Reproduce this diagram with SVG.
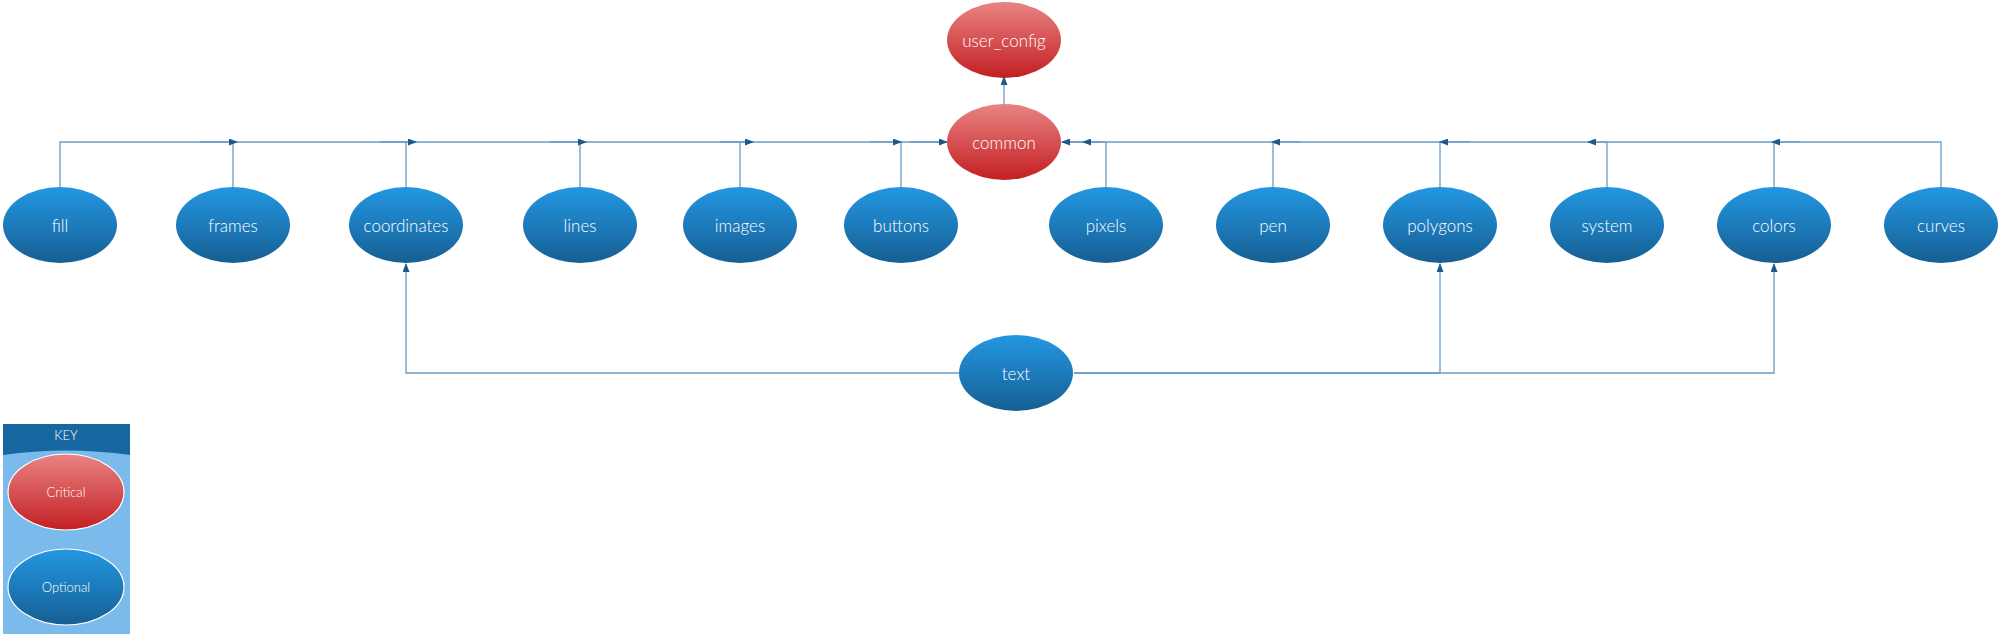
<svg xmlns="http://www.w3.org/2000/svg" width="2000" height="634" viewBox="0 0 2000 634">
<defs>
<linearGradient id="gb" x1="0" y1="0" x2="0" y2="1">
<stop offset="0" stop-color="#2397e2"/>
<stop offset="1" stop-color="#165f93"/>
</linearGradient>
<linearGradient id="gr" x1="0" y1="0" x2="0" y2="1">
<stop offset="0" stop-color="#e98383"/>
<stop offset="1" stop-color="#c31f22"/>
</linearGradient>
<marker id="ah" markerWidth="9" markerHeight="7" refX="8" refY="3.5" orient="auto" markerUnits="userSpaceOnUse">
<path d="M0,0 L9,3.5 L0,7 Z" fill="#1c5a8c"/>
</marker>
</defs>
<style>
.b{fill:url(#gb)}
.r{fill:url(#gr)}
.t{font-family:Lato,"Open Sans","Liberation Sans",sans-serif;font-weight:300;font-size:17px;fill:#ffffff;text-anchor:middle;dominant-baseline:central}
.k{font-family:Lato,"Open Sans","Liberation Sans",sans-serif;font-weight:300;font-size:13px;fill:#ffffff;text-anchor:middle;dominant-baseline:central}
.c{fill:none;stroke:#6b9dc8;stroke-width:1.3}
.a{fill:none;stroke:#6b9dc8;stroke-width:1.3;marker-end:url(#ah)}
</style>
<rect width="2000" height="634" fill="#ffffff"/>
<g id="connectors">
<path class="c" d="M60,188 V142 H947"/>
<path class="c" d="M233,188 V142"/>
<path class="c" d="M406,188 V142"/>
<path class="c" d="M580,188 V142"/>
<path class="c" d="M740,188 V142"/>
<path class="c" d="M901,188 V142"/>
<path class="a" d="M200,142 H237"/>
<path class="a" d="M380,142 H416"/>
<path class="a" d="M550,142 H586"/>
<path class="a" d="M720,142 H753"/>
<path class="a" d="M870,142 H901"/>
<path class="a" d="M910,142 H947"/>
<path class="c" d="M1941,188 V142 H1062"/>
<path class="c" d="M1106,188 V142"/>
<path class="c" d="M1273,188 V142"/>
<path class="c" d="M1440,188 V142"/>
<path class="c" d="M1607,188 V142"/>
<path class="c" d="M1774,188 V142"/>
<path class="a" d="M1100,142 H1062"/>
<path class="a" d="M1106,142 H1083"/>
<path class="a" d="M1300,142 H1272"/>
<path class="a" d="M1470,142 H1440"/>
<path class="a" d="M1607,142 H1588"/>
<path class="a" d="M1800,142 H1772"/>
<path class="a" d="M1004,104 V77"/>
<path class="a" d="M959,373 H406 V264"/>
<path class="a" d="M1074,373 H1440 V264"/>
<path class="a" d="M1074,373 H1774 V264"/>
</g>
<g id="user_config"><ellipse class="r" cx="1004" cy="40" rx="57" ry="38"/><text class="t" x="1004" y="40">user_config</text></g>
<g id="common"><ellipse class="r" cx="1004" cy="142" rx="57" ry="38"/><text class="t" x="1004" y="142">common</text></g>
<g id="fill"><ellipse class="b" cx="60" cy="225" rx="57" ry="38"/><text class="t" x="60" y="225">fill</text></g>
<g id="frames"><ellipse class="b" cx="233" cy="225" rx="57" ry="38"/><text class="t" x="233" y="225">frames</text></g>
<g id="coordinates"><ellipse class="b" cx="406" cy="225" rx="57" ry="38"/><text class="t" x="406" y="225">coordinates</text></g>
<g id="lines"><ellipse class="b" cx="580" cy="225" rx="57" ry="38"/><text class="t" x="580" y="225">lines</text></g>
<g id="images"><ellipse class="b" cx="740" cy="225" rx="57" ry="38"/><text class="t" x="740" y="225">images</text></g>
<g id="buttons"><ellipse class="b" cx="901" cy="225" rx="57" ry="38"/><text class="t" x="901" y="225">buttons</text></g>
<g id="pixels"><ellipse class="b" cx="1106" cy="225" rx="57" ry="38"/><text class="t" x="1106" y="225">pixels</text></g>
<g id="pen"><ellipse class="b" cx="1273" cy="225" rx="57" ry="38"/><text class="t" x="1273" y="225">pen</text></g>
<g id="polygons"><ellipse class="b" cx="1440" cy="225" rx="57" ry="38"/><text class="t" x="1440" y="225">polygons</text></g>
<g id="system"><ellipse class="b" cx="1607" cy="225" rx="57" ry="38"/><text class="t" x="1607" y="225">system</text></g>
<g id="colors"><ellipse class="b" cx="1774" cy="225" rx="57" ry="38"/><text class="t" x="1774" y="225">colors</text></g>
<g id="curves"><ellipse class="b" cx="1941" cy="225" rx="57" ry="38"/><text class="t" x="1941" y="225">curves</text></g>
<g id="text"><ellipse class="b" cx="1016" cy="373" rx="57" ry="38"/><text class="t" x="1016" y="373">text</text></g>
<g id="key">
<rect x="3" y="424" width="127" height="210" fill="#7bbbeb"/>
<path d="M3,424 H130 V455 Q66,446 3,455 Z" fill="#16679f"/>
<text class="k" x="66" y="435">KEY</text>
<ellipse class="r" cx="66" cy="492" rx="58" ry="38" stroke="#ffffff" stroke-width="1.2"/>
<text class="k" x="66" y="492">Critical</text>
<ellipse class="b" cx="66" cy="587" rx="58" ry="38" stroke="#ffffff" stroke-width="1.2"/>
<text class="k" x="66" y="587">Optional</text>
</g>
</svg>
